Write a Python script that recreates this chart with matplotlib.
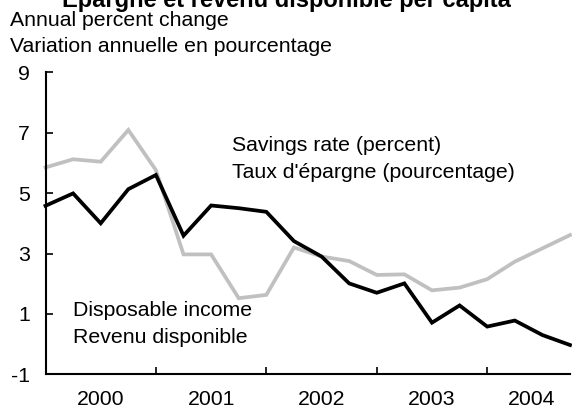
import matplotlib
matplotlib.use("Agg")
import matplotlib.pyplot as plt

plt.rcParams['font.family'] = ['Liberation Sans', 'DejaVu Sans']

quarters = list(range(20))
savings_rate = [5.85, 6.12, 6.04, 7.09, 5.76, 2.97, 2.97, 1.52, 1.63, 3.20,
                2.90, 2.75, 2.29, 2.31, 1.78, 1.87, 2.15, 2.73, 3.17, 3.61]
disposable_income = [4.58, 4.99, 4.00, 5.13, 5.60, 3.59, 4.59, 4.50, 4.38, 3.41,
                     2.90, 2.01, 1.70, 2.01, 0.71, 1.28, 0.58, 0.78, 0.30, -0.03]
year_labels = ["2000", "2001", "2002", "2003", "2004"]
year_label_pos = [2, 6, 10, 14, 17.6]
year_boundaries = [4, 8, 12, 16]
y_ticks = [-1, 1, 3, 5, 7, 9]

FS = 15.3

fig = plt.figure(figsize=(5.72, 4.09), dpi=100)
ax = fig.add_axes([45.5 / 572, (409 - 374.3) / 409, 524.5 / 572, 302 / 409])

ax.plot(quarters, savings_rate, color='#c0c0c0', lw=2.7, solid_joinstyle='miter', clip_on=False)
ax.plot(quarters, disposable_income, color='black', lw=2.7, solid_joinstyle='miter', clip_on=False)

ax.set_xlim(0, 19)
ax.set_ylim(-1, 9)
ax.set_yticks(y_ticks)
ax.set_yticklabels([str(v) for v in y_ticks])
ax.set_xticks(year_label_pos)
ax.set_xticklabels(year_labels)
ax.set_xticks(year_boundaries, minor=True)
ax.tick_params(axis='x', which='major', length=0, pad=11, labelsize=FS)
ax.tick_params(axis='x', which='minor', direction='in', length=5, width=1.2)
ax.tick_params(axis='y', which='major', direction='in', length=5, width=1.2, pad=11, labelsize=FS)

for s in ['top', 'right']:
    ax.spines[s].set_visible(False)
for s in ['left', 'bottom']:
    ax.spines[s].set_linewidth(1.5)

ax.text(6.75, 6.40, "Savings rate (percent)", fontsize=FS, va='baseline', ha='left')
ax.text(6.75, 5.49, "Taux d'épargne (pourcentage)", fontsize=FS, va='baseline', ha='left')
ax.text(1.0, 0.93, "Disposable income", fontsize=FS, va='baseline', ha='left')
ax.text(1.0, 0.03, "Revenu disponible", fontsize=FS, va='baseline', ha='left')

fig.text(0.5, 1 - 7 / 409, "Épargne et revenu disponible per capita", fontsize=17,
         fontweight='bold', ha='center', va='baseline')
fig.text(10 / 572, 1 - 26.5 / 409, "Annual percent change", fontsize=FS, va='baseline', ha='left')
fig.text(10 / 572, 1 - 51.5 / 409, "Variation annuelle en pourcentage", fontsize=FS, va='baseline', ha='left')

fig.savefig("out.png", dpi=100)
